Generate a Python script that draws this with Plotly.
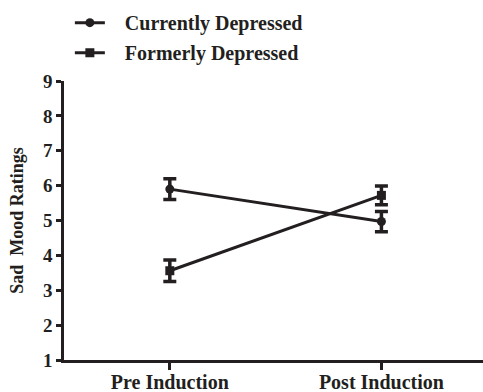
import plotly.graph_objects as go

categories = ["Pre Induction", "Post Induction"]
current_vals = [5.9, 4.97]
current_err = [0.3, 0.29]
former_vals = [3.56, 5.72]
former_err = [0.31, 0.27]
y_ticks = [1, 2, 3, 4, 5, 6, 7, 8, 9]

xpos = [0, 1]
col = "#231f20"
fam = "Liberation Serif"

fig = go.Figure()
fig.add_trace(go.Scatter(
    x=xpos, y=current_vals, name="&nbsp;&nbsp;&nbsp;Currently Depressed", mode="lines+markers",
    line=dict(color=col, width=3), marker=dict(symbol="circle", size=9, color=col),
    error_y=dict(type="data", array=current_err, color=col, thickness=3.5, width=6.5),
    legendgroup="a"))
fig.add_trace(go.Scatter(
    x=xpos, y=former_vals, name="&nbsp;&nbsp;&nbsp;Formerly Depressed", mode="lines+markers",
    line=dict(color=col, width=3), marker=dict(symbol="square", size=9, color=col),
    error_y=dict(type="data", array=former_err, color=col, thickness=3.5, width=6.5),
    legendgroup="b"))

fig.update_layout(
    width=483, height=392,
    margin=dict(l=64, r=0, t=81, b=32, autoexpand=False),
    paper_bgcolor="white", plot_bgcolor="white",
    font=dict(family=fam, size=18, color=col),
    showlegend=True,
    legend=dict(x=0.014, y=1.279, xanchor="left", yanchor="top",
                font=dict(family=fam, size=20, color=col, weight="bold"),
                traceorder="grouped", tracegroupgap=1, itemwidth=30,
                bgcolor="rgba(0,0,0,0)"),
    xaxis=dict(range=[-0.5, 1.48], tickvals=xpos, ticktext=categories,
               showline=True, linecolor=col, linewidth=2.5, showgrid=False, zeroline=False,
               ticks="outside", ticklen=7, tickwidth=2.5, tickcolor=col,
               ticklabelstandoff=-5,
               tickfont=dict(family=fam, size=20, color=col, weight="bold")),
    yaxis=dict(range=[1, 9], tickvals=y_ticks,
               showline=True, linecolor=col, linewidth=2.5, showgrid=False, zeroline=False,
               ticks="outside", ticklen=5, tickwidth=2.5, tickcolor=col,
               tickfont=dict(family=fam, size=19, color=col, weight="bold"),
               title=dict(text="Sad  Mood Ratings", standoff=15,
                          font=dict(family=fam, size=18, color=col, weight="bold"))),
)
fig.write_html("out.html", config={"displayModeBar": False},
               post_script="document.body.style.margin='0';")
